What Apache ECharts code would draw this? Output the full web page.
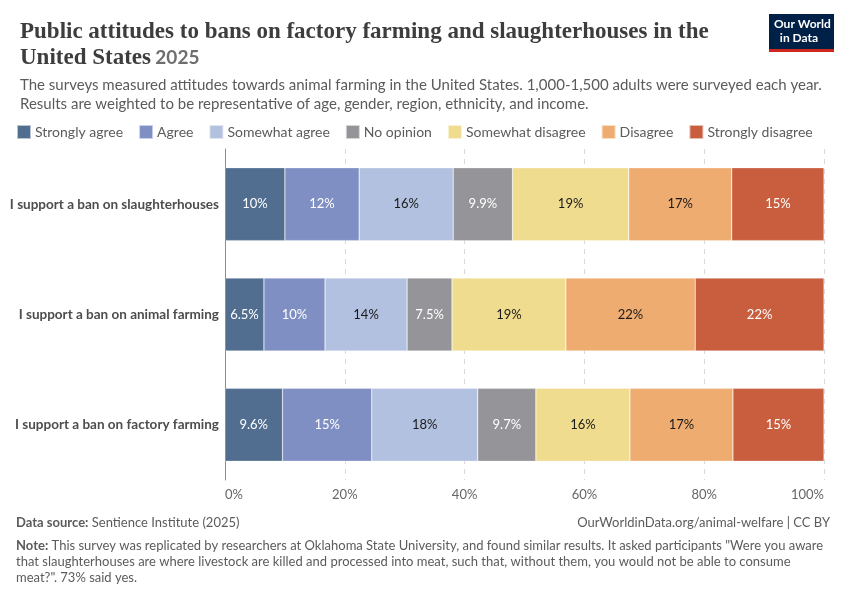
<!DOCTYPE html>
<html>
<head>
<meta charset="utf-8">
<script src="https://cdn.jsdelivr.net/npm/echarts@6/dist/echarts.min.js"></script>
<style>
html,body{margin:0;padding:0;background:#fff;}
#chart{width:850px;height:600px;}
</style>
</head>
<body>
<div id="chart"></div>
<script>
const categories = [
  "I support a ban on slaughterhouses",
  "I support a ban on animal farming",
  "I support a ban on factory farming"
];
const seriesNames = ["Strongly agree","Agree","Somewhat agree","No opinion","Somewhat disagree","Disagree","Strongly disagree"];
const stronglyAgree    = [10.0, 6.5, 9.6];
const agree            = [12.4, 10.2, 14.9];
const somewhatAgree    = [15.7, 13.7, 17.7];
const noOpinion        = [9.9, 7.5, 9.7];
const somewhatDisagree = [19.4, 19.0, 15.7];
const disagree         = [17.2, 21.6, 17.2];
const stronglyDisagree = [15.4, 21.5, 15.2];
const xTicks = [0, 20, 40, 60, 80, 100];

const values = [stronglyAgree, agree, somewhatAgree, noOpinion, somewhatDisagree, disagree, stronglyDisagree];
const colors = ["#516e91","#7f8fc3","#b2c1df","#959498","#f0dc8f","#efac71","#c95e3f"];
const labelColors = ["#fff","#fff","#1a1a1a","#fff","#1a1a1a","#1a1a1a","#fff"];

function fmt(v){
  return (v < 10 ? v.toFixed(1) : Math.round(v).toString()) + "%";
}

const chart = echarts.init(document.getElementById('chart'));
const option = {
  animation: false,
  textStyle: { fontFamily: 'Lato' },
  color: colors,
  title: [
    {
      text: '{t|Public attitudes to bans on factory farming and slaughterhouses in the}\n{t|United States} {y|2025}',
      left: 15, top: 14,
      textStyle: {
        rich: {
          t: { fontFamily: 'Liberation Serif', fontSize: 23, color: '#3d3d3d', fontWeight: 'bold', lineHeight: 26 },
          y: { fontFamily: 'Lato', fontSize: 19, color: '#6e6e6e', lineHeight: 26 }
        }
      }
    },
    {
      text: 'The surveys measured attitudes towards animal farming in the United States. 1,000-1,500 adults were surveyed each year.\nResults are weighted to be representative of age, gender, region, ethnicity, and income.',
      left: 15, top: 71,
      textStyle: { fontFamily: 'Lato', fontSize: 15, color: '#5b5b5b', fontWeight: 'normal', lineHeight: 19 }
    }
  ],
  legend: {
    data: seriesNames,
    left: 16, top: 124, padding: 0,
    icon: 'rect', itemWidth: 14, itemHeight: 14, itemGap: 15,
    textStyle: { fontFamily: 'Lato', fontSize: 14, color: '#5b5b5b', padding: [0,0,0,-1] },
    selectedMode: false
  },
  grid: { left: 225, right: 26, top: 149, bottom: 120, containLabel: false },
  xAxis: {
    type: 'value', min: 0, max: 100, interval: 20,
    axisLine: { show: false }, axisTick: { show: false },
    axisLabel: { formatter: v => v + '%', fontFamily: 'Lato', fontSize: 13, color: '#666', margin: 8,
                 alignMinLabel: 'left', alignMaxLabel: 'right' },
    splitLine: { show: true, lineStyle: { type: [5,5], color: '#d9d9d9', width: 1 } }
  },
  yAxis: {
    type: 'category', data: categories, inverse: true,
    axisLine: { show: true, lineStyle: { color: '#8c8c8c', width: 1 } },
    axisTick: { show: false },
    axisLabel: { fontFamily: 'Lato', fontSize: 13.5, fontWeight: 'bold', color: '#4d4d4d', margin: 6 }
  },
  series: seriesNames.map((name, i) => ({
    name: name,
    type: 'bar',
    stack: 'total',
    barWidth: 73,
    data: values[i],
    itemStyle: { color: colors[i], borderColor: 'rgba(255,255,255,0.6)', borderWidth: 0.5 },
    label: {
      show: true, position: 'inside',
      formatter: p => fmt(p.value),
      fontFamily: 'Lato', fontSize: 13, color: labelColors[i]
    }
  })),
  graphic: [
    { type: 'rect', left: 769, top: 14, shape: { width: 65, height: 35 }, style: { fill: '#002147' } },
    { type: 'rect', left: 769, top: 49, shape: { width: 65, height: 3 }, style: { fill: '#ce261e' } },
    { type: 'text', left: 774, top: 17, style: { text: 'Our World\n  in Data', fill: '#fff', font: 'bold 12px Lato', lineHeight: 14, align: 'center', x: 27 } },
    { type: 'text', left: 16, top: 516, style: {
        rich: {
          b: { font: 'bold 13px Lato', fill: '#5b5b5b' },
          n: { font: '13px Lato', fill: '#5b5b5b' }
        },
        text: '{b|Data source:} {n|Sentience Institute (2025)}'
    } },
    { type: 'text', right: 20, top: 516, style: { text: 'OurWorldinData.org/animal-welfare | CC BY', font: '13px Lato', fill: '#5b5b5b' } },
    { type: 'text', left: 16, top: 539, style: {
        rich: {
          b: { font: 'bold 13px Lato', fill: '#5b5b5b', lineHeight: 16 },
          n: { font: '13px Lato', fill: '#5b5b5b', lineHeight: 16 }
        },
        text: '{b|Note:} {n|This survey was replicated by researchers at Oklahoma State University, and found similar results. It asked participants "Were you aware}\n{n|that slaughterhouses are where livestock are killed and processed into meat, such that, without them, you would not be able to consume}\n{n|meat?". 73% said yes.}'
    } }
  ]
};
chart.setOption(option);
</script>
</body>
</html>
